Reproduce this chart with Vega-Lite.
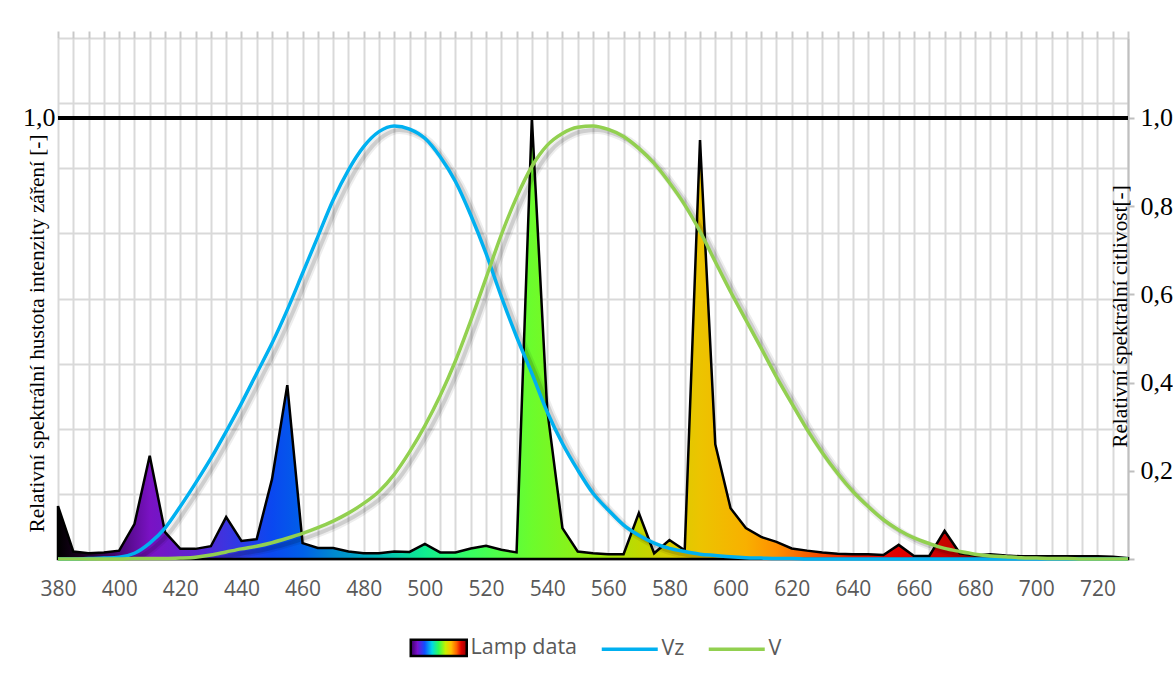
{
  "$schema": "https://vega.github.io/schema/vega-lite/v6.json",
  "width": 1070,
  "height": 521,
  "autosize": {"type": "none"},
  "padding": {"left": 58, "top": 38, "right": 45, "bottom": 123},
  "background": "white",
  "config": {"view": {"stroke": null}},
  "data": {"values": [
    {"wl": 380, "lamp": 0.12, "Vz": 0, "V": 0},
    {"wl": 385, "lamp": 0.017, "Vz": 0, "V": 0},
    {"wl": 390, "lamp": 0.013, "Vz": 0.001, "V": 0},
    {"wl": 395, "lamp": 0.015, "Vz": 0.002, "V": 0},
    {"wl": 400, "lamp": 0.019, "Vz": 0.004, "V": 0},
    {"wl": 405, "lamp": 0.079, "Vz": 0.013, "V": 0.001},
    {"wl": 410, "lamp": 0.234, "Vz": 0.036, "V": 0.001},
    {"wl": 415, "lamp": 0.061, "Vz": 0.07, "V": 0.001},
    {"wl": 420, "lamp": 0.023, "Vz": 0.119, "V": 0.002},
    {"wl": 425, "lamp": 0.023, "Vz": 0.172, "V": 0.004},
    {"wl": 430, "lamp": 0.029, "Vz": 0.228, "V": 0.009},
    {"wl": 435, "lamp": 0.095, "Vz": 0.289, "V": 0.016},
    {"wl": 440, "lamp": 0.041, "Vz": 0.353, "V": 0.023},
    {"wl": 445, "lamp": 0.045, "Vz": 0.421, "V": 0.029},
    {"wl": 450, "lamp": 0.181, "Vz": 0.489, "V": 0.037},
    {"wl": 455, "lamp": 0.394, "Vz": 0.565, "V": 0.047},
    {"wl": 460, "lamp": 0.036, "Vz": 0.648, "V": 0.058},
    {"wl": 465, "lamp": 0.025, "Vz": 0.731, "V": 0.071},
    {"wl": 470, "lamp": 0.025, "Vz": 0.814, "V": 0.086},
    {"wl": 475, "lamp": 0.017, "Vz": 0.882, "V": 0.104},
    {"wl": 480, "lamp": 0.013, "Vz": 0.935, "V": 0.126},
    {"wl": 485, "lamp": 0.013, "Vz": 0.969, "V": 0.153},
    {"wl": 490, "lamp": 0.017, "Vz": 0.982, "V": 0.192},
    {"wl": 495, "lamp": 0.016, "Vz": 0.975, "V": 0.243},
    {"wl": 500, "lamp": 0.034, "Vz": 0.954, "V": 0.302},
    {"wl": 505, "lamp": 0.015, "Vz": 0.912, "V": 0.37},
    {"wl": 510, "lamp": 0.015, "Vz": 0.856, "V": 0.449},
    {"wl": 515, "lamp": 0.024, "Vz": 0.78, "V": 0.54},
    {"wl": 520, "lamp": 0.03, "Vz": 0.693, "V": 0.637},
    {"wl": 525, "lamp": 0.021, "Vz": 0.595, "V": 0.735},
    {"wl": 530, "lamp": 0.015, "Vz": 0.504, "V": 0.82},
    {"wl": 535, "lamp": 1.0, "Vz": 0.421, "V": 0.89},
    {"wl": 540, "lamp": 0.34, "Vz": 0.334, "V": 0.938},
    {"wl": 545, "lamp": 0.07, "Vz": 0.262, "V": 0.965},
    {"wl": 550, "lamp": 0.017, "Vz": 0.202, "V": 0.979},
    {"wl": 555, "lamp": 0.013, "Vz": 0.149, "V": 0.982},
    {"wl": 560, "lamp": 0.011, "Vz": 0.111, "V": 0.974},
    {"wl": 565, "lamp": 0.011, "Vz": 0.077, "V": 0.958},
    {"wl": 570, "lamp": 0.104, "Vz": 0.054, "V": 0.931},
    {"wl": 575, "lamp": 0.013, "Vz": 0.036, "V": 0.897},
    {"wl": 580, "lamp": 0.043, "Vz": 0.024, "V": 0.853},
    {"wl": 585, "lamp": 0.02, "Vz": 0.017, "V": 0.803},
    {"wl": 590, "lamp": 0.95, "Vz": 0.011, "V": 0.743},
    {"wl": 595, "lamp": 0.26, "Vz": 0.008, "V": 0.674},
    {"wl": 600, "lamp": 0.115, "Vz": 0.005, "V": 0.606},
    {"wl": 605, "lamp": 0.07, "Vz": 0.003, "V": 0.542},
    {"wl": 610, "lamp": 0.05, "Vz": 0.002, "V": 0.478},
    {"wl": 615, "lamp": 0.039, "Vz": 0.001, "V": 0.413},
    {"wl": 620, "lamp": 0.024, "Vz": 0.001, "V": 0.353},
    {"wl": 625, "lamp": 0.019, "Vz": 0, "V": 0.294},
    {"wl": 630, "lamp": 0.015, "Vz": 0, "V": 0.241},
    {"wl": 635, "lamp": 0.012, "Vz": 0, "V": 0.194},
    {"wl": 640, "lamp": 0.011, "Vz": 0, "V": 0.153},
    {"wl": 645, "lamp": 0.011, "Vz": 0, "V": 0.119},
    {"wl": 650, "lamp": 0.009, "Vz": 0, "V": 0.089},
    {"wl": 655, "lamp": 0.032, "Vz": 0, "V": 0.066},
    {"wl": 660, "lamp": 0.007, "Vz": 0, "V": 0.048},
    {"wl": 665, "lamp": 0.007, "Vz": 0, "V": 0.035},
    {"wl": 670, "lamp": 0.064, "Vz": 0, "V": 0.024},
    {"wl": 675, "lamp": 0.013, "Vz": 0, "V": 0.017},
    {"wl": 680, "lamp": 0.008, "Vz": 0, "V": 0.011},
    {"wl": 685, "lamp": 0.011, "Vz": 0, "V": 0.007},
    {"wl": 690, "lamp": 0.008, "Vz": 0, "V": 0.005},
    {"wl": 695, "lamp": 0.006, "Vz": 0, "V": 0.003},
    {"wl": 700, "lamp": 0.006, "Vz": 0, "V": 0.002},
    {"wl": 705, "lamp": 0.006, "Vz": 0, "V": 0.001},
    {"wl": 710, "lamp": 0.006, "Vz": 0, "V": 0.001},
    {"wl": 715, "lamp": 0.006, "Vz": 0, "V": 0},
    {"wl": 720, "lamp": 0.006, "Vz": 0, "V": 0},
    {"wl": 725, "lamp": 0.005, "Vz": 0, "V": 0},
    {"wl": 730, "lamp": 0.002, "Vz": 0, "V": 0}
  ]},
  "resolve": {"scale": {"x": "independent", "y": "independent"}},
  "layer": [
    {
      "mark": {
        "type": "area",
        "stroke": "black",
        "strokeWidth": 2.5,
        "strokeJoin": "miter",
        "fill": {
          "gradient": "linear", "x1": 0, "y1": 0, "x2": 1, "y2": 0,
          "stops": [
            {"offset": 0, "color": "#000000"},
            {"offset": 0.02, "color": "#1a0020"},
            {"offset": 0.057, "color": "#4a0878"},
            {"offset": 0.086, "color": "#7a12c4"},
            {"offset": 0.129, "color": "#5c24d0"},
            {"offset": 0.157, "color": "#3c34e0"},
            {"offset": 0.2, "color": "#0a48f0"},
            {"offset": 0.229, "color": "#0060e8"},
            {"offset": 0.257, "color": "#0088d0"},
            {"offset": 0.3, "color": "#00b8b8"},
            {"offset": 0.343, "color": "#10ee90"},
            {"offset": 0.386, "color": "#38ff60"},
            {"offset": 0.443, "color": "#6cfc2c"},
            {"offset": 0.5, "color": "#98ec10"},
            {"offset": 0.543, "color": "#c0d800"},
            {"offset": 0.6, "color": "#ecc400"},
            {"offset": 0.643, "color": "#f8b000"},
            {"offset": 0.671, "color": "#ff9000"},
            {"offset": 0.7, "color": "#f86000"},
            {"offset": 0.743, "color": "#e81800"},
            {"offset": 0.786, "color": "#e00000"},
            {"offset": 0.829, "color": "#c80000"},
            {"offset": 0.914, "color": "#900000"},
            {"offset": 1, "color": "#500000"}
          ]
        }
      },
      "encoding": {
        "x": {
          "field": "wl", "type": "quantitative",
          "scale": {"domain": [380, 730], "nice": false, "zero": false},
          "axis": {
            "orient": "bottom",
            "title": null,
            "values": [380,385,390,395,400,405,410,415,420,425,430,435,440,445,450,455,460,465,470,475,480,485,490,495,500,505,510,515,520,525,530,535,540,545,550,555,560,565,570,575,580,585,590,595,600,605,610,615,620,625,630,635,640,645,650,655,660,665,670,675,680,685,690,695,700,705,710,715,720,725,730],
            "labelExpr": "datum.value % 20 === 0 && datum.value <= 720 ? datum.label : ''",
            "labelOverlap": false,
            "labelBound": false,
            "labelFlush": false,
            "grid": true,
            "gridColor": "#d9d9d9",
            "gridWidth": 2,
            "ticks": false,
            "domain": true,
            "domainColor": "#bfbfbf",
            "domainWidth": 2,
            "labelFont": "Open Sans",
            "labelFontSize": 21,
            "labelColor": "#595959",
            "labelPadding": 19
          }
        },
        "y": {
          "field": "lamp", "type": "quantitative",
          "scale": {"domain": [0, 1.1814], "nice": false, "zero": true},
          "axis": {
            "orient": "left",
            "values": [0, 0.1477, 0.2954, 0.443, 0.5907, 0.7384, 0.8861, 1, 1.0338, 1.1814],
            "labelExpr": "datum.value === 1 ? '1,0' : ''",
            "labelOverlap": false,
            "labelFlush": false,
            "labelBound": false,
            "grid": true,
            "gridColor": "#d9d9d9",
            "gridWidth": 2,
            "ticks": false,
            "domain": false,
            "labelFont": "Liberation Serif",
            "labelFontSize": 26,
            "labelColor": "#000000",
            "labelPadding": 3,
            "title": "Relativní spektrální hustota intenzity záření [-]",
            "titleFont": "Liberation Serif",
            "titleFontSize": 21.3,
            "titleFontWeight": "normal",
            "titleColor": "#000000",
            "titleAngle": 270,
            "titleX": -21,
            "titleY": 295,
            "titleAlign": "center",
            "titleBaseline": "middle"
          }
        }
      }
    },
    {
      "mark": {"type": "rule", "color": "black", "strokeWidth": 2.5},
      "encoding": {
        "y": {"datum": 1, "type": "quantitative", "scale": {"domain": [0, 1.1814], "nice": false, "zero": true}, "axis": null}
      }
    },
    {
      "transform": [{"fold": ["Vz", "V"], "as": ["series", "value"]}],
      "layer": [
        {
          "mark": {"type": "line", "strokeWidth": 8, "interpolate": "monotone", "color": "#000000", "opacity": 0.07, "clip": true},
          "encoding": {
            "x": {"field": "wl", "type": "quantitative", "scale": {"domain": [378.4, 728.4], "nice": false, "zero": false}, "axis": null},
            "y": {"field": "value", "type": "quantitative", "scale": {"domain": [0.009, 1.1904], "nice": false, "zero": false}, "axis": null},
            "detail": {"field": "series"}
          }
        },
        {
          "mark": {"type": "line", "strokeWidth": 4, "interpolate": "monotone", "color": "#000000", "opacity": 0.13, "clip": true},
          "encoding": {
            "x": {"field": "wl", "type": "quantitative", "axis": null},
            "y": {"field": "value", "type": "quantitative", "axis": null},
            "detail": {"field": "series"}
          }
        }
      ]
    },
    {
      "transform": [{"fold": ["Vz", "V"], "as": ["series", "value"]}],
      "mark": {"type": "line", "strokeWidth": 3.5, "interpolate": "monotone"},
      "encoding": {
        "x": {
          "field": "wl", "type": "quantitative",
          "scale": {"domain": [380, 730], "nice": false, "zero": false},
          "axis": {
            "orient": "top",
            "title": null,
            "values": [380,385,390,395,400,405,410,415,420,425,430,435,440,445,450,455,460,465,470,475,480,485,490,495,500,505,510,515,520,525,530,535,540,545,550,555,560,565,570,575,580,585,590,595,600,605,610,615,620,625,630,635,640,645,650,655,660,665,670,675,680,685,690,695,700,705,710,715,720,725,730],
            "labels": false,
            "grid": false,
            "domain": false,
            "ticks": true,
            "tickSize": 7,
            "tickColor": "#c8c8c8",
            "tickWidth": 2
          }
        },
        "y": {
          "field": "value", "type": "quantitative",
          "scale": {"domain": [0, 1.1814], "nice": false, "zero": true},
          "axis": {
            "orient": "right",
            "values": [0, 0.2, 0.4, 0.6, 0.8, 1],
            "labelExpr": "datum.value === 0 ? '' : replace(format(datum.value, '.1f'), '.', ',')",
            "labelOverlap": false,
            "labelFlush": false,
            "labelBound": false,
            "grid": false,
            "domain": true,
            "domainColor": "#bfbfbf",
            "domainWidth": 2,
            "ticks": true,
            "tickSize": 6,
            "tickColor": "#bfbfbf",
            "tickWidth": 2,
            "labelPadding": 6,
            "labelFont": "Liberation Serif",
            "labelFontSize": 26,
            "labelColor": "#000000",
            "title": "Relativní spektrální citlivost[-]",
            "titleFont": "Liberation Serif",
            "titleFontSize": 21.3,
            "titleFontWeight": "normal",
            "titleColor": "#000000",
            "titleAngle": 270,
            "titleX": -8,
            "titleY": 278,
            "titleAlign": "center",
            "titleBaseline": "middle"
          }
        },
        "color": {
          "field": "series", "type": "nominal",
          "scale": {"domain": ["Lamp data", "Vz", "V"], "range": ["#000000", "#00b0f0", "#92d050"]},
          "legend": {
            "orient": "none",
            "legendX": 370,
            "legendY": 599,
            "direction": "horizontal",
            "title": null,
            "padding": 0,
            "symbolType": "stroke",
            "symbolSize": 3136,
            "symbolStrokeWidth": 3.5,
            "labelFont": "Open Sans",
            "labelFontSize": 21.5,
            "labelColor": "#595959",
            "labelOffset": 21,
            "columnPadding": 16,
            "encode": {
              "symbols": {
                "update": {
                  "shape": {"signal": "datum.value === 'Lamp data' ? 'M-1,-0.29H1V0.29H-1Z' : 'stroke'"},
                  "fill": {"signal": "datum.value === 'Lamp data' ? {gradient: 'linear', x1: 0, y1: 0, x2: 1, y2: 0, stops: [{offset: 0, color: '#3a0060'}, {offset: 0.12, color: '#7a10d0'}, {offset: 0.25, color: '#1050ff'}, {offset: 0.38, color: '#00d8e8'}, {offset: 0.5, color: '#30ff50'}, {offset: 0.62, color: '#c8f000'}, {offset: 0.72, color: '#ffc000'}, {offset: 0.82, color: '#ff6000'}, {offset: 0.9, color: '#e00000'}, {offset: 1, color: '#900000'}]} : 'transparent'"},
                  "strokeWidth": {"signal": "datum.value === 'Lamp data' ? 2.5 : 3.5"}
                }
              }
            }
          }
        }
      }
    }
  ]
}
